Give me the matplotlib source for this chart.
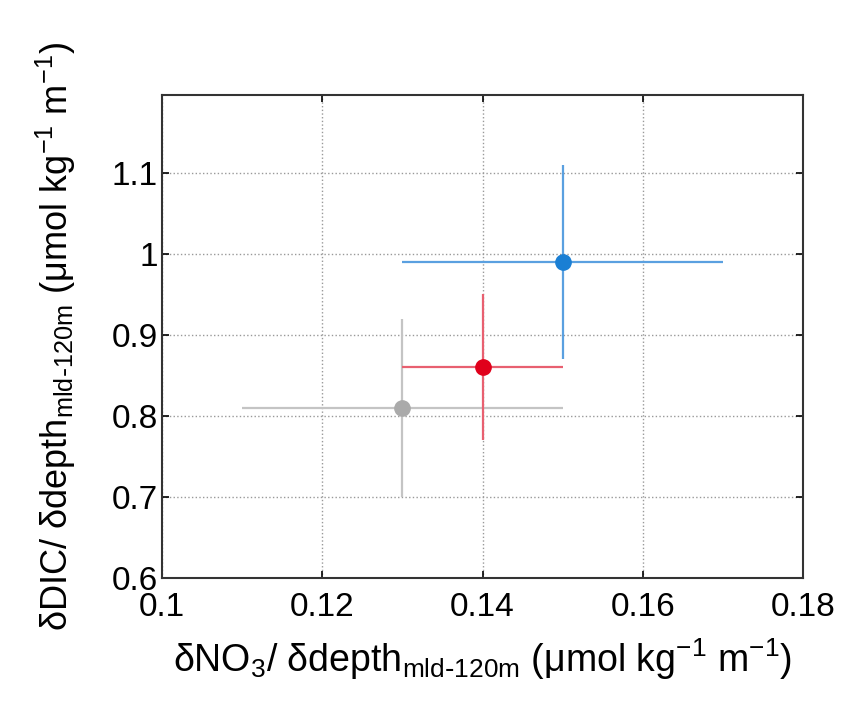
import matplotlib.pyplot as plt

plt.rcParams['font.family'] = ['Liberation Sans', 'DejaVu Sans']
plt.rcParams['mathtext.default'] = 'regular'

# points: grey, red, blue
x_vals = [0.13, 0.14, 0.15]
y_vals = [0.81, 0.86, 0.99]
x_lo = [0.11, 0.13, 0.13]
x_hi = [0.15, 0.15, 0.17]
y_lo = [0.70, 0.77, 0.87]
y_hi = [0.92, 0.95, 1.11]
colors = ['#aaaaaa', '#e0001b', '#1a7fd4']
bar_colors = ['#c4c4c4', '#e86070', '#5aa0e0']

x_ticks = [0.1, 0.12, 0.14, 0.16, 0.18]
x_ticklabels = ['0.1', '0.12', '0.14', '0.16', '0.18']
y_ticks = [0.6, 0.7, 0.8, 0.9, 1.0, 1.1]
y_ticklabels = ['0.6', '0.7', '0.8', '0.9', '1', '1.1']

fig = plt.figure(figsize=(8.45, 7.05), dpi=100)
ax = fig.add_axes([162 / 845, 1 - 578 / 705, 641 / 845, 483 / 705])

for i in range(len(x_vals)):
    xe = [[x_vals[i] - x_lo[i]], [x_hi[i] - x_vals[i]]]
    ye = [[y_vals[i] - y_lo[i]], [y_hi[i] - y_vals[i]]]
    ax.errorbar([x_vals[i]], [y_vals[i]], xerr=xe, yerr=ye, fmt='none',
                ecolor=bar_colors[i], elinewidth=1.6, capsize=0, zorder=2)
    ax.plot(x_vals[i], y_vals[i], 'o', color=colors[i], ms=11, zorder=3)

ax.set_xlim(0.1, 0.18)
ax.set_ylim(0.6, 1.196)
ax.set_xticks(x_ticks)
ax.set_xticklabels(x_ticklabels)
ax.set_yticks(y_ticks)
ax.set_yticklabels(y_ticklabels)
ax.tick_params(direction='in', length=5, width=1.2, labelsize=24, top=True, right=True)
ax.tick_params(axis='x', pad=10)
ax.tick_params(axis='y', pad=3)
ax.grid(True, linestyle=':', color='#999999', linewidth=1.0)
for s in ax.spines.values():
    s.set_linewidth(1.5)
    s.set_color('#333333')

ax.set_xlabel(r'δNO$_3$/ δdepth$_{mld\text{-}120m}$ (μmol kg$^{-1}$ m$^{-1}$)', fontsize=27, labelpad=10)
ax.set_ylabel(r'δDIC/ δdepth$_{mld\text{-}120m}$ (μmol kg$^{-1}$ m$^{-1}$)', fontsize=26, labelpad=24)

fig.savefig('out.png', dpi=100)
